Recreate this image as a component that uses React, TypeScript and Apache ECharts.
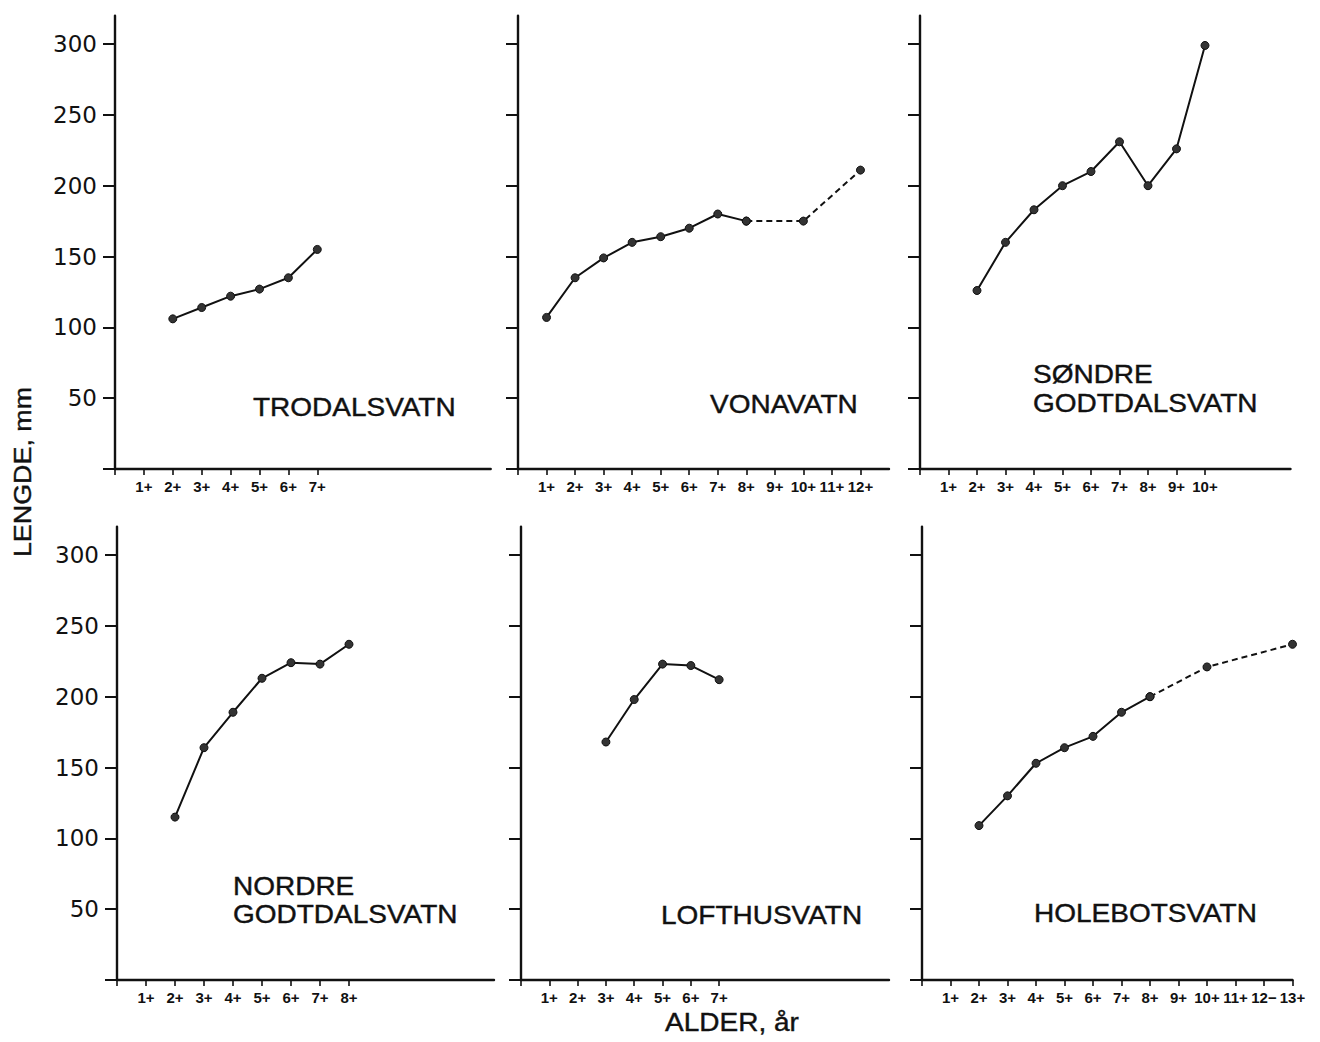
import React, { useEffect, useRef } from "react";
import * as echarts from "echarts";

// ---------- data ----------
const trodalAges = [2, 3, 4, 5, 6, 7];
const trodalLen = [106, 114, 122, 127, 135, 155];

const vonaAges = [1, 2, 3, 4, 5, 6, 7, 8];
const vonaLen = [107, 135, 149, 160, 164, 170, 180, 175];
const vonaDashAges = [8, 10, 12];
const vonaDashLen = [175, 175, 211];

const sondreAges = [2, 3, 4, 5, 6, 7, 8, 9, 10];
const sondreLen = [126, 160, 183, 200, 210, 231, 200, 226, 299];

const nordreAges = [2, 3, 4, 5, 6, 7, 8];
const nordreLen = [115, 164, 189, 213, 224, 223, 237];

const lofthusAges = [3, 4, 5, 6, 7];
const lofthusLen = [168, 198, 223, 222, 212];

const holeAges = [2, 3, 4, 5, 6, 7, 8];
const holeLen = [109, 130, 153, 164, 172, 189, 200];
const holeDashAges = [8, 10, 13];
const holeDashLen = [200, 221, 237];

// tick labels (index = age position on axis)
const labelsTrodal = ["", "1+", "2+", "3+", "4+", "5+", "6+", "7+"];
const labelsVona = ["", "1+", "2+", "3+", "4+", "5+", "6+", "7+", "8+", "9+", "10+", "11+", "12+"];
const labelsSondre = ["", "1+", "2+", "3+", "4+", "5+", "6+", "7+", "8+", "9+", "10+"];
const labelsNordre = ["", "1+", "2+", "3+", "4+", "5+", "6+", "7+", "8+"];
const labelsLofthus = ["", "1+", "2+", "3+", "4+", "5+", "6+", "7+"];
const labelsHole = ["", "1+", "2+", "3+", "4+", "5+", "6+", "7+", "8+", "9+", "10+", "11+", "12−", "13+"];

const yTicks = [0, 50, 100, 150, 200, 250, 300];
const yLabels = [50, 100, 150, 200, 250, 300];

const yTitle = "LENGDE, mm";
const xTitle = "ALDER, år";

// ---------- styling ----------
const INK = "#111111";
const FONT = "'Liberation Sans', Arial, sans-serif";
const STRETCH = 1.12;

const pairs = (xs: number[], ys: number[]) => xs.map((x, i) => [x, ys[i]]);

type Panel = {
  grid: { left: number; top: number; width: number; height: number };
  labels: string[];
  solid: number[][];
  dashed?: number[][];
  showY: boolean;
};

const TOP_Y = 15.7;
const BOT_Y = 526.7;
const GH = 453.3;

const panels: Panel[] = [
  { grid: { left: 115, top: TOP_Y, width: 375.7, height: GH }, labels: labelsTrodal, solid: pairs(trodalAges, trodalLen), showY: true },
  { grid: { left: 518, top: TOP_Y, width: 371, height: GH }, labels: labelsVona, solid: pairs(vonaAges, vonaLen), dashed: pairs(vonaDashAges, vonaDashLen), showY: false },
  { grid: { left: 920, top: TOP_Y, width: 370.5, height: GH }, labels: labelsSondre, solid: pairs(sondreAges, sondreLen), showY: false },
  { grid: { left: 117, top: BOT_Y, width: 377, height: GH }, labels: labelsNordre, solid: pairs(nordreAges, nordreLen), showY: true },
  { grid: { left: 521, top: BOT_Y, width: 368, height: GH }, labels: labelsLofthus, solid: pairs(lofthusAges, lofthusLen), showY: false },
  { grid: { left: 922, top: BOT_Y, width: 370.5, height: GH }, labels: labelsHole, solid: pairs(holeAges, holeLen), dashed: pairs(holeDashAges, holeDashLen), showY: false },
];

const nameText = (text: string, x: number, y: number) => ({
  type: "text",
  x,
  y,
  scaleX: STRETCH,
  style: {
    text,
    fill: INK,
    fontFamily: FONT,
    fontSize: 25,
    align: "left",
    verticalAlign: "middle",
    stroke: INK,
    lineWidth: 0.4,
  },
});

export default function App() {
  const ref = useRef<HTMLDivElement>(null);

  useEffect(() => {
    if (!ref.current) return;
    const chart = echarts.init(ref.current, null, { renderer: "svg" });

    const grid = panels.map((p) => ({ ...p.grid, containLabel: false }));

    const xAxis = panels.map((p, i) => {
      const ticks = p.labels.map((_, k) => k);
      return {
        type: "value",
        gridIndex: i,
        min: 0,
        max: 13,
        interval: 1,
        splitLine: { show: false },
        axisLine: { show: true, onZero: false, lineStyle: { color: INK, width: 2.4 } },
        axisTick: { show: true, length: 6, customValues: ticks, lineStyle: { color: INK, width: 1.6 } },
        axisLabel: {
          show: true,
          margin: 10,
          customValues: ticks.filter((k) => p.labels[k] !== ""),
          formatter: (v: number) => p.labels[Math.round(v)] ?? "",
          color: INK,
          fontFamily: FONT,
          fontWeight: "bold",
          fontSize: 15,
        },
      };
    });

    const yAxis = panels.map((p, i) => ({
      type: "value",
      gridIndex: i,
      min: 0,
      max: 320,
      splitLine: { show: false },
      axisLine: { show: true, onZero: false, lineStyle: { color: INK, width: 2.4 } },
      axisTick: { show: true, length: 12, customValues: yTicks, lineStyle: { color: INK, width: 2 } },
      axisLabel: {
        show: p.showY,
        margin: 18,
        customValues: yLabels,
        color: INK,
        fontFamily: "'DejaVu Sans', sans-serif",
        fontSize: 23,
      },
    }));

    const series: any[] = [];
    panels.forEach((p, i) => {
      series.push({
        type: "line",
        xAxisIndex: i,
        yAxisIndex: i,
        data: p.solid,
        symbol: "circle",
        symbolSize: 8,
        showSymbol: true,
        lineStyle: { color: INK, width: 2 },
        itemStyle: { color: "#333333", borderColor: INK, borderWidth: 1 },
        z: 3,
      });
      if (p.dashed) {
        series.push({
          type: "line",
          xAxisIndex: i,
          yAxisIndex: i,
          data: p.dashed,
          symbol: "circle",
          symbolSize: 8,
          showSymbol: true,
          lineStyle: { color: INK, width: 2, type: [6, 4] },
          itemStyle: { color: "#333333", borderColor: INK, borderWidth: 1 },
          z: 2,
        });
      }
    });

    const graphic: any[] = [
      nameText("TRODALSVATN", 253, 408),
      nameText("VONAVATN", 710, 405),
      nameText("SØNDRE", 1033, 375),
      nameText("GODTDALSVATN", 1033, 404),
      nameText("NORDRE", 233, 887),
      nameText("GODTDALSVATN", 233, 915),
      nameText("LOFTHUSVATN", 661, 916),
      nameText("HOLEBOTSVATN", 1034, 914),
      {
        type: "text",
        x: 23,
        y: 472,
        rotation: Math.PI / 2,
        scaleX: STRETCH,
        style: { text: yTitle, fill: INK, fontFamily: FONT, fontSize: 24, align: "center", verticalAlign: "middle", stroke: INK, lineWidth: 0.4 },
      },
      {
        type: "text",
        x: 732,
        y: 1023,
        scaleX: STRETCH,
        style: { text: xTitle, fill: INK, fontFamily: FONT, fontSize: 25, align: "center", verticalAlign: "middle", stroke: INK, lineWidth: 0.4 },
      },
    ];

    chart.setOption({
      animation: false,
      backgroundColor: "#ffffff",
      grid,
      xAxis,
      yAxis,
      series,
      graphic,
    });

    return () => chart.dispose();
  }, []);

  return (
    <div
      ref={ref}
      style={{ position: "absolute", left: 0, top: 0, width: 1320, height: 1042, background: "#fff" }}
    />
  );
}
